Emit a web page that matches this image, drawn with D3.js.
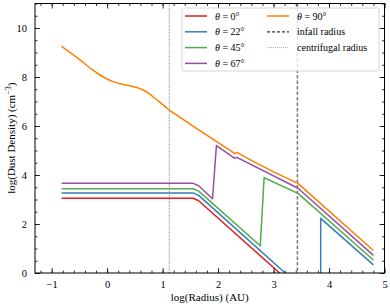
<!DOCTYPE html>
<meta charset="utf-8">
<style>
body { margin: 0; }
text { font-family: "Liberation Serif", "DejaVu Serif", serif; }
.line { fill: none; stroke-width: 1.5px; stroke-linejoin: round; }
</style>
<body>
<script src="https://cdn.jsdelivr.net/npm/d3@7"></script>
<script>

var margin = {top: 3.5, right: 5.5, bottom: 34, left: 35},
    width = 390 - margin.left - margin.right,
    height = 307 - margin.top - margin.bottom;

// angles and the density profile along each one, [log r, log rho]
var angles = ["0", "22", "45", "67", "90"];
var colors = ["#e41a1c", "#377eb8", "#4daf4a", "#984ea3", "#ff7f00"];

var theta0 = [[-0.82, 3.05], [1.55, 3.05], [1.65, 2.95], [3.11, 0], [3.2, -0.2]];
var theta22 = [[-0.82, 3.27], [1.55, 3.27], [1.65, 3.17], [3.21, 0], [3.3, -0.2],
               [3.85, -0.2], [3.85, 2.23], [4.8, 0.33]];
var theta45 = [[-0.82, 3.44], [1.55, 3.44], [1.65, 3.34], [2.76, 1.11], [2.83, 3.89],
               [3.44, 3.25], [4.8, 0.53]];
var theta67 = [[-0.82, 3.66], [1.55, 3.66], [1.65, 3.56], [1.9, 3.03], [1.97, 5.2],
               [2.21, 4.82], [2.3, 4.68], [2.34, 4.72], [3.44, 3.46], [4.8, 0.72]];
// equatorial profile: smooth inner part inside the centrifugal radius, straight pieces outside
var theta90Inner = [[-0.82, 9.25], [-0.49, 8.7], [-0.25, 8.27], [-0.1, 8.04], [0.0, 7.92],
                    [0.11, 7.81], [0.29, 7.69], [0.41, 7.64], [0.52, 7.58], [0.65, 7.47],
                    [0.77, 7.3], [0.89, 7.08], [1.01, 6.86], [1.12, 6.65]];
var theta90Outer = [[1.12, 6.65], [1.61, 5.9], [2.21, 5.02], [2.3, 4.87], [2.34, 4.92],
                    [2.6, 4.6], [3.0, 4.13], [3.44, 3.66], [4.8, 0.92]];
var profiles = [theta0, theta22, theta45, theta67, theta90Outer];

var infallRadius = 3.43;
var centrifugalRadius = 1.12;

var xTicks = [-1, 0, 1, 2, 3, 4, 5];
var yTicks = [0, 2, 4, 6, 8, 10];

var x = d3.scaleLinear().domain([-1.3, 5]).range([0, width]);
var y = d3.scaleLinear().domain([0, 11]).range([height, 0]);

var svg = d3.select("body").append("svg")
    .attr("width", 390)
    .attr("height", 307)
  .append("g")
    .attr("transform", "translate(" + margin.left + "," + margin.top + ")");

svg.append("clipPath").attr("id", "clip")
  .append("rect").attr("width", width).attr("height", height);

var plot = svg.append("g").attr("clip-path", "url(#clip)");

// reference radii
plot.append("line")
    .attr("x1", x(centrifugalRadius)).attr("x2", x(centrifugalRadius))
    .attr("y1", 0).attr("y2", height)
    .style("stroke", "#555").style("stroke-width", 0.8)
    .style("stroke-dasharray", "1,1.2");
plot.append("line")
    .attr("x1", x(infallRadius)).attr("x2", x(infallRadius))
    .attr("y1", 0).attr("y2", height)
    .style("stroke", "#777").style("stroke-width", 1.5)
    .style("stroke-dasharray", "3.5,2");

var line = d3.line()
    .x(function(d) { return x(d[0]); })
    .y(function(d) { return y(d[1]); });

var smooth = d3.line()
    .curve(d3.curveMonotoneX)
    .x(function(d) { return x(d[0]); })
    .y(function(d) { return y(d[1]); });

plot.append("path")
    .datum(theta90Inner)
    .attr("class", "line")
    .attr("d", smooth)
    .style("stroke", colors[4]);

profiles.forEach(function(p, i) {
  plot.append("path")
      .datum(p)
      .attr("class", "line")
      .attr("d", line)
      .style("stroke", colors[i]);
});

// axes: ticks inside on all four sides
function minor(lo, hi, step) {
  return d3.range(Math.round(lo / step), Math.round(hi / step) + 1).map(function(k) { return k * step; });
}
var xMinor = minor(-1.2, 5, 0.2);
var yMinor = minor(0, 11, 0.5);

function fmt(d) { return d < 0 ? "\u2212" + (-d) : "" + d; }

var axBottom = svg.append("g").attr("transform", "translate(0," + height + ")");
axBottom.call(d3.axisBottom(x).tickValues(xMinor).tickSize(-2.5).tickFormat(""));
axBottom.append("g").call(d3.axisBottom(x).tickValues(xTicks).tickSize(-5).tickPadding(8).tickFormat(fmt));

var axTop = svg.append("g");
axTop.call(d3.axisTop(x).tickValues(xMinor).tickSize(-2.5).tickFormat(""));
axTop.append("g").call(d3.axisTop(x).tickValues(xTicks).tickSize(-5).tickFormat(""));

var axLeft = svg.append("g");
axLeft.call(d3.axisLeft(y).tickValues(yMinor).tickSize(-2.5).tickFormat(""));
axLeft.append("g").call(d3.axisLeft(y).tickValues(yTicks).tickSize(-5).tickPadding(8).tickFormat(fmt));

var axRight = svg.append("g").attr("transform", "translate(" + width + ",0)");
axRight.call(d3.axisRight(y).tickValues(yMinor).tickSize(-2.5).tickFormat(""));
axRight.append("g").call(d3.axisRight(y).tickValues(yTicks).tickSize(-5).tickFormat(""));

svg.selectAll(".domain").remove();
svg.selectAll(".tick line").style("stroke", "#000").style("stroke-width", 0.8);
svg.selectAll(".tick text").style("font-family", "Liberation Serif, serif")
    .style("font-size", "10.5px").style("fill", "#000");

svg.append("rect")
    .attr("width", width).attr("height", height)
    .style("fill", "none").style("stroke", "#000").style("stroke-width", 1);

// axis labels
svg.append("text")
    .attr("x", width / 2).attr("y", height + 28)
    .attr("text-anchor", "middle")
    .style("font-size", "11px")
    .text("log(Radius) (AU)");

var yl = svg.append("text")
    .attr("transform", "translate(-20," + height / 2 + ") rotate(-90)")
    .attr("text-anchor", "middle")
    .style("font-size", "11px");
yl.append("tspan").text("log(Dust Density) (cm");
yl.append("tspan").attr("dy", -4).style("font-size", "8px").text("\u22123");
yl.append("tspan").attr("dy", 4).text(")");

// legend
var legend = svg.append("g").attr("transform", "translate(" + (182 - margin.left) + "," + (8 - margin.top) + ")");
legend.append("rect")
    .attr("width", 197).attr("height", 63).attr("rx", 1.5)
    .style("fill", "#fff").style("fill-opacity", 0.8)
    .style("stroke", "#ccc").style("stroke-width", 0.8);

var entries = angles.map(function(a, i) {
  return {label: a, color: colors[i], dash: null, w: 1.5};
});
entries.push({text: "infall radius", color: "#333", dash: "3,2", w: 1.2});
entries.push({text: "centrifugal radius", color: "#999", dash: "1,1", w: 0.8});

entries.forEach(function(e, i) {
  var col = i < 4 ? 0 : 1, row = i < 4 ? i : i - 4;
  var g = legend.append("g")
      .attr("transform", "translate(" + (3 + col * 82) + "," + (8 + row * 15.8) + ")");
  g.append("line")
      .attr("x1", 0).attr("x2", 22)
      .style("stroke", e.color).style("stroke-width", e.w)
      .style("stroke-dasharray", e.dash);
  var t = g.append("text").attr("x", 30).attr("y", 3.5).style("font-size", "10px");
  if (e.label !== undefined) {
    t.append("tspan").style("font-style", "italic").text("\u03b8");
    t.append("tspan").text(" = " + e.label + "\u00b0");
  } else {
    t.text(e.text);
  }
});

</script>
</body>
